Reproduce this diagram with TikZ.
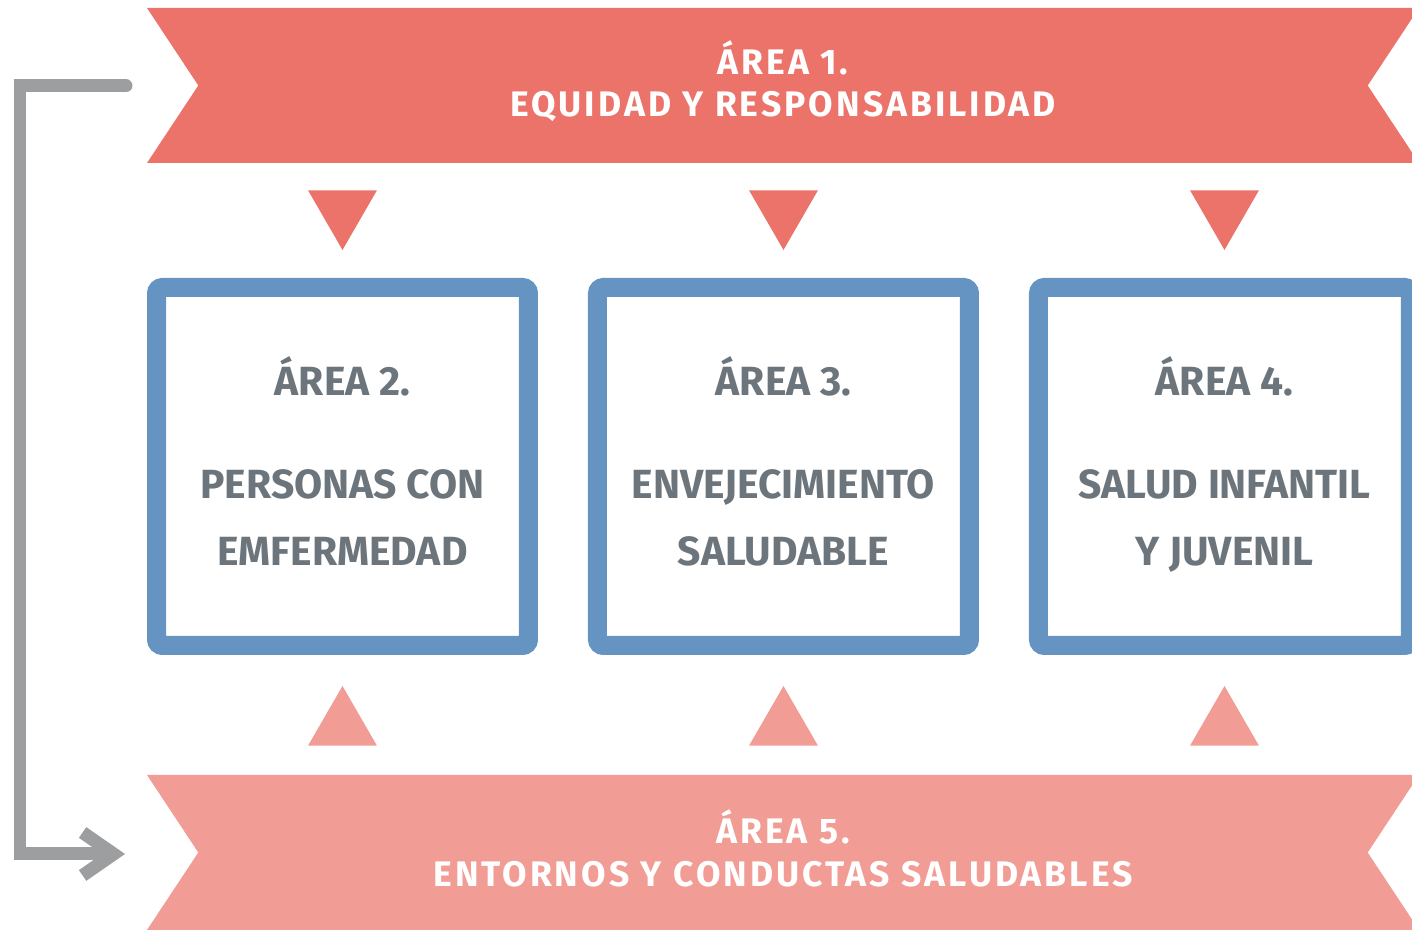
\documentclass[tikz,border=0pt]{standalone}
\usepackage{fontspec}
\setmainfont{Fira Sans}
\newfontfamily\bannerfont[LetterSpace=8.5]{Fira Sans}
\usetikzlibrary{positioning, shapes.symbols, shapes.geometric, arrows.meta}
\definecolor{bannerred}{HTML}{EB736A}
\definecolor{bannerpink}{HTML}{F19C94}
\definecolor{boxblue}{HTML}{6694C2}
\definecolor{textgray}{HTML}{6C757B}
\definecolor{arrowgray}{HTML}{9C9EA0}

\begin{document}
\begin{tikzpicture}[x=0.1mm, y=-0.1mm,
		banner/.style={signal, signal from=west and east, signal to=nowhere,
			signal pointer angle=113, minimum width=127.2mm, minimum height=15.5mm,
			inner sep=0pt, outer sep=0pt, text=white, align=center,
			font=\bannerfont\bfseries\fontsize{10.1}{12.2}\selectfont},
		areabox/.style={draw=boxblue, line width=1.9mm, rounded corners=0.6mm,
			minimum width=37.2mm, minimum height=35.8mm, align=center, text=textgray,
			text depth=1.1mm, font=\bfseries\fontsize{11.6}{19}\selectfont},
		downtri/.style={regular polygon, regular polygon sides=3, shape border rotate=180,
			fill=bannerred, minimum size=7.96mm, inner sep=0pt, outer sep=0pt},
		uptri/.style={regular polygon, regular polygon sides=3,
			fill=bannerpink, minimum size=7.96mm, inner sep=0pt, outer sep=0pt},
		feedback/.style={draw=arrowgray, line width=1.3mm, line cap=round,
			-{Straight Barb[length=3.1mm, width=4.3mm]}}]
	\useasboundingbox (0,0) rectangle (1412,930);
	% Banners (top and bottom)
	\node[banner, fill=bannerred, text depth=1.4mm] (area1) at (783,85.5)
		{ÁREA 1.\\EQUIDAD Y RESPONSABILIDAD};
	\node[banner, fill=bannerpink, text depth=0.9mm] (area5) at (783,852.5)
		{ÁREA 5.\\ENTORNOS Y CONDUCTAS SALUDABLES};
	% Boxes for areas 2 to 4
	\node[areabox] (area2) at (342.5,466.5) {ÁREA 2.\\[3.7mm]PERSONAS CON\\EMFERMEDAD};
	\node[areabox, right=5mm of area2] (area3) {ÁREA 3.\\[3.7mm]ENVEJECIMIENTO\\SALUDABLE};
	\node[areabox, right=5mm of area3] (area4) {ÁREA 4.\\[3.7mm]SALUD INFANTIL\\Y JUVENIL};
	% Triangles above and below the boxes
	\node[downtri, above=2.8mm of area2] (down2) {};
	\node[downtri, above=2.8mm of area3] (down3) {};
	\node[downtri, above=2.8mm of area4] (down4) {};
	\node[uptri, below=3.1mm of area2] (up2) {};
	\node[uptri, below=3.1mm of area3] (up3) {};
	\node[uptri, below=3.1mm of area4] (up4) {};
	% Arrow from area 1 back to area 5
	\coordinate (fbstart) at (126,86);
	\coordinate (fbend) at (125,854);
	\draw[feedback] (fbstart) -- ++(-106,0) |- (fbend);
\end{tikzpicture}
\end{document}
